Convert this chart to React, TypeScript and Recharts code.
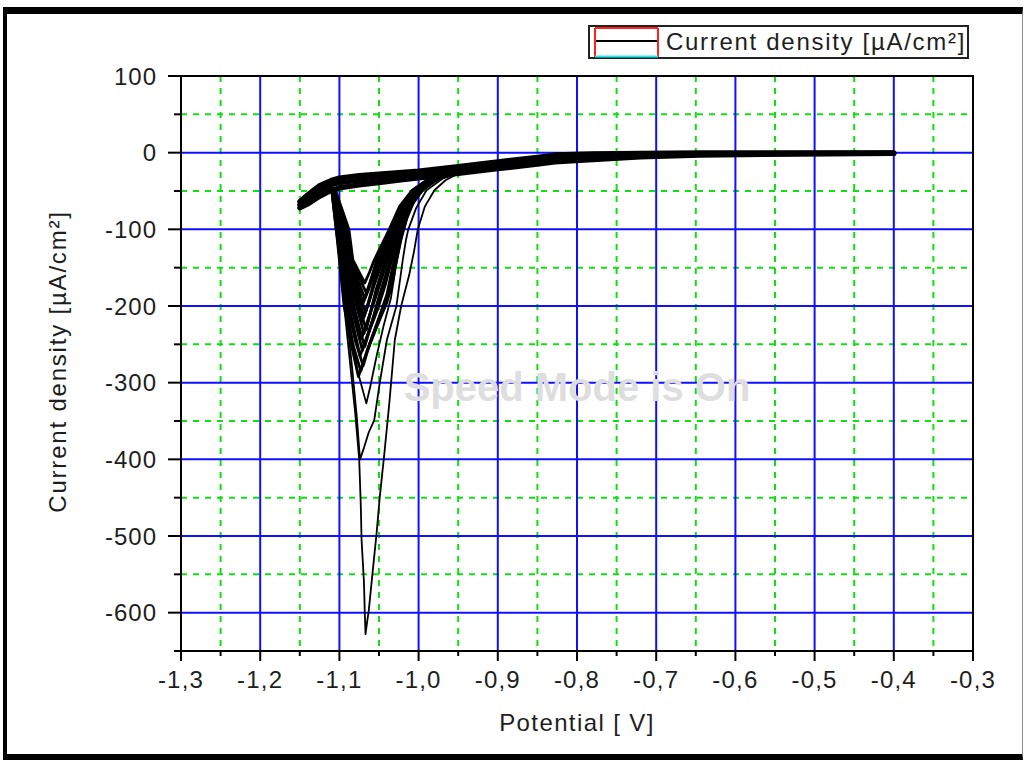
import { LineChart, Line, XAxis, YAxis, CartesianGrid, ReferenceArea, Label } from 'recharts';

type Pt = [number, number];

// axis ticks (labels use a decimal comma)
const X_MAJOR = [-1.3, -1.2, -1.1, -1.0, -0.9, -0.8, -0.7, -0.6, -0.5, -0.4, -0.3];
const X_MINOR = [-1.25, -1.15, -1.05, -0.95, -0.85, -0.75, -0.65, -0.55, -0.45, -0.35];
const Y_MAJOR = [100, 0, -100, -200, -300, -400, -500, -600];
const Y_MINOR = [50, -50, -150, -250, -350, -450, -550, -650];

// forward scan band (top edge, middle, bottom edge of the overlapping cycles)
const SCAN_TOP: Pt[] = [
  [-1.150, -64], [-1.140, -55], [-1.125, -43], [-1.110, -36], [-1.100, -33], [-1.075, -30],
  [-1.050, -28], [-1.025, -26], [-1.000, -24], [-0.975, -21], [-0.950, -18], [-0.900, -12],
  [-0.850, -6], [-0.828, -3], [-0.780, -1.5], [-0.720, -0.8], [-0.645, -0.4], [-0.520, -0.2], [-0.400, -0.2],
];
const SCAN_MID: Pt[] = [
  [-1.150, -68], [-1.140, -61], [-1.125, -50], [-1.110, -42], [-1.100, -39], [-1.075, -36],
  [-1.050, -33], [-1.025, -31], [-1.000, -28], [-0.975, -25], [-0.950, -22], [-0.900, -16],
  [-0.850, -10], [-0.828, -7], [-0.780, -5], [-0.720, -3], [-0.645, -1.8], [-0.520, -1], [-0.400, -0.6],
];
const SCAN_BOT: Pt[] = [
  [-1.150, -72], [-1.140, -67], [-1.125, -57], [-1.110, -49], [-1.100, -46], [-1.075, -42],
  [-1.050, -39], [-1.025, -36], [-1.000, -33], [-0.975, -30], [-0.950, -27], [-0.900, -21],
  [-0.850, -15], [-0.828, -12], [-0.780, -9], [-0.720, -5.5], [-0.645, -3.2], [-0.520, -1.8], [-0.400, -1.0],
];

// reduction loops, deepest first
const LOOP_1: Pt[] = [
  [-1.110, -46], [-1.104, -95], [-1.099, -145], [-1.094, -200], [-1.087, -270], [-1.080, -340],
  [-1.075, -400], [-1.073, -460], [-1.072, -505], [-1.069, -560], [-1.068, -598], [-1.067, -628],
  [-1.065, -612], [-1.063, -598], [-1.059, -557], [-1.053, -496], [-1.049, -449], [-1.043, -390],
  [-1.037, -327], [-1.030, -244], [-1.022, -200], [-1.012, -160], [-1.006, -130], [-1.001, -100],
  [-0.992, -70], [-0.980, -49], [-0.966, -36], [-0.952, -28], [-0.925, -21], [-0.890, -16], [-0.860, -12],
];
const LOOP_2: Pt[] = [
  [-1.110, -46], [-1.103, -100], [-1.097, -155], [-1.091, -210], [-1.084, -280], [-1.078, -345],
  [-1.074, -400], [-1.069, -385], [-1.063, -365], [-1.056, -349], [-1.049, -300], [-1.040, -244],
  [-1.028, -200], [-1.020, -140], [-1.016, -114], [-1.013, -100], [-1.003, -72], [-0.990, -49],
  [-0.970, -34], [-0.945, -25], [-0.910, -19], [-0.870, -14],
];
const LOOP_3: Pt[] = [
  [-1.109, -46], [-1.102, -100], [-1.095, -160], [-1.087, -225], [-1.077, -285], [-1.066, -327],
  [-1.061, -305], [-1.053, -265], [-1.044, -225], [-1.035, -190], [-1.029, -150], [-1.022, -115],
  [-1.014, -85], [-1.003, -58], [-0.985, -40], [-0.960, -29], [-0.930, -21], [-0.890, -15],
];
const LOOP_4: Pt[] = [
  [-1.110, -46], [-1.104, -100], [-1.100, -140], [-1.094, -200], [-1.085, -250], [-1.076, -292],
  [-1.066, -262], [-1.052, -225], [-1.040, -195], [-1.033, -170], [-1.028, -140], [-1.020, -100],
  [-1.010, -70], [-0.995, -49], [-0.975, -34], [-0.948, -25], [-0.910, -18],
];
const LOOP_5: Pt[] = [
  [-1.110, -46], [-1.104, -100], [-1.099, -140], [-1.092, -200], [-1.083, -250], [-1.073, -285],
  [-1.064, -255], [-1.051, -220], [-1.040, -190], [-1.030, -140], [-1.021, -100], [-1.011, -70],
  [-0.996, -49], [-0.976, -34], [-0.949, -25], [-0.910, -18],
];
const LOOP_6: Pt[] = [
  [-1.110, -46], [-1.103, -100], [-1.098, -140], [-1.090, -200], [-1.080, -245], [-1.070, -278],
  [-1.062, -250], [-1.050, -215], [-1.040, -185], [-1.031, -140], [-1.022, -100], [-1.011, -70],
  [-0.996, -49], [-0.976, -34], [-0.949, -25], [-0.910, -18],
];
const LOOP_7: Pt[] = [
  [-1.109, -46], [-1.102, -100], [-1.097, -140], [-1.089, -195], [-1.074, -265],
  [-1.063, -235], [-1.052, -205], [-1.042, -172], [-1.034, -140], [-1.023, -100], [-1.013, -70],
  [-0.998, -49], [-0.977, -34], [-0.950, -25], [-0.911, -18],
];
const LOOP_8: Pt[] = [
  [-1.109, -46], [-1.101, -100], [-1.096, -140], [-1.087, -192], [-1.071, -258],
  [-1.062, -230], [-1.052, -200], [-1.043, -170], [-1.035, -140], [-1.024, -100], [-1.014, -70],
  [-0.999, -49], [-0.978, -34], [-0.950, -25], [-0.911, -18],
];
const LOOP_9: Pt[] = [
  [-1.109, -46], [-1.100, -100], [-1.095, -140], [-1.086, -190], [-1.068, -253],
  [-1.060, -225], [-1.052, -195], [-1.044, -168], [-1.036, -140], [-1.025, -100], [-1.014, -70],
  [-0.999, -49], [-0.979, -34], [-0.950, -25], [-0.911, -18],
];
const LOOP_10: Pt[] = [
  [-1.109, -46], [-1.099, -100], [-1.094, -140], [-1.085, -185], [-1.072, -242],
  [-1.063, -215], [-1.054, -188], [-1.046, -162], [-1.039, -140], [-1.027, -100], [-1.016, -70],
  [-1.000, -49], [-0.980, -34], [-0.951, -25], [-0.912, -18],
];
const LOOP_11: Pt[] = [
  [-1.108, -46], [-1.098, -100], [-1.093, -140], [-1.083, -182], [-1.069, -236],
  [-1.061, -210], [-1.054, -184], [-1.047, -161], [-1.040, -140], [-1.028, -100], [-1.016, -70],
  [-1.001, -49], [-0.980, -34], [-0.951, -25], [-0.912, -18],
];
const LOOP_12: Pt[] = [
  [-1.108, -46], [-1.097, -100], [-1.092, -140], [-1.082, -180], [-1.066, -231],
  [-1.060, -205], [-1.054, -180], [-1.048, -160], [-1.042, -140], [-1.029, -100], [-1.017, -70],
  [-1.002, -49], [-0.981, -34], [-0.952, -25], [-0.912, -18],
];
const LOOP_13: Pt[] = [
  [-1.108, -46], [-1.096, -100], [-1.090, -140], [-1.080, -180], [-1.071, -220],
  [-1.063, -196], [-1.056, -172], [-1.050, -155], [-1.045, -140], [-1.030, -100], [-1.018, -70],
  [-1.003, -49], [-0.982, -34], [-0.953, -25], [-0.912, -18],
];
const LOOP_14: Pt[] = [
  [-1.108, -46], [-1.095, -100], [-1.089, -140], [-1.079, -178], [-1.069, -214],
  [-1.062, -192], [-1.055, -168], [-1.047, -140], [-1.031, -100], [-1.019, -70],
  [-1.003, -49], [-0.982, -34], [-0.953, -25], [-0.912, -18],
];
const LOOP_15: Pt[] = [
  [-1.108, -46], [-1.094, -100], [-1.088, -140], [-1.078, -175], [-1.067, -208],
  [-1.061, -186], [-1.055, -163], [-1.048, -140], [-1.032, -100], [-1.020, -70],
  [-1.004, -49], [-0.983, -34], [-0.954, -25], [-0.913, -18],
];
const LOOP_16: Pt[] = [
  [-1.107, -46], [-1.092, -100], [-1.087, -140], [-1.078, -170], [-1.070, -196],
  [-1.063, -178], [-1.056, -158], [-1.050, -140], [-1.034, -100], [-1.021, -70],
  [-1.005, -49], [-0.985, -34], [-0.954, -25], [-0.913, -18],
];
const LOOP_17: Pt[] = [
  [-1.107, -46], [-1.091, -100], [-1.086, -140], [-1.076, -168], [-1.068, -190],
  [-1.062, -173], [-1.057, -156], [-1.052, -140], [-1.034, -100], [-1.022, -70],
  [-1.006, -49], [-0.985, -34], [-0.955, -25], [-0.913, -18],
];
const LOOP_18: Pt[] = [
  [-1.107, -46], [-1.090, -100], [-1.085, -140], [-1.074, -165], [-1.066, -183],
  [-1.061, -168], [-1.057, -155], [-1.053, -140], [-1.035, -100], [-1.023, -70],
  [-1.007, -49], [-0.986, -34], [-0.955, -25], [-0.914, -18],
];
const LOOP_19: Pt[] = [
  [-1.106, -46], [-1.088, -100], [-1.083, -140], [-1.068, -170],
  [-1.062, -156], [-1.056, -140], [-1.037, -100], [-1.024, -70],
  [-1.008, -49], [-0.987, -34], [-0.956, -25], [-0.914, -18],
];

const SCANS = [SCAN_TOP, SCAN_MID, SCAN_BOT];
const LOOPS = [
  LOOP_1, LOOP_2, LOOP_3, LOOP_4, LOOP_5, LOOP_6, LOOP_7, LOOP_8, LOOP_9, LOOP_10,
  LOOP_11, LOOP_12, LOOP_13, LOOP_14, LOOP_15, LOOP_16, LOOP_17, LOOP_18, LOOP_19,
];

const rows = (pts: Pt[]) => pts.map(([x, y]) => ({ x, y }));

const FONT = '"Liberation Sans", Arial, sans-serif';
const TEXT = '#1e1e1e';
const BLUE = '#1010ff';
const GREEN = '#10e010';

const X_TICK = 10;
const X_GAP = 14;
const Y_TICK = 13;
const Y_GAP = 11;

const has = (list: number[], v: number) => list.some((t) => Math.abs(t - v) < 1e-6);
const comma = (v: number) => v.toFixed(1).replace('.', ',');

const XTick = (props: any) => {
  const { x, y, payload } = props;
  const major = has(X_MAJOR, payload.value);
  const axisY = y - X_TICK - X_GAP;
  return (
    <g>
      <line x1={x} x2={x} y1={axisY} y2={axisY + (major ? X_TICK : 5)} stroke="#000" strokeWidth={2} />
      {major && (
        <text x={x} y={axisY + 37} textAnchor="middle" fontSize={24} letterSpacing={1.2} fill={TEXT} fontFamily={FONT}>
          {comma(payload.value)}
        </text>
      )}
    </g>
  );
};

const YTick = (props: any) => {
  const { x, y, payload } = props;
  const major = has(Y_MAJOR, payload.value);
  const axisX = x + Y_TICK + Y_GAP;
  return (
    <g>
      <line x1={axisX} x2={axisX - (major ? Y_TICK : 7)} y1={y} y2={y} stroke="#000" strokeWidth={2} />
      {major && (
        <text x={axisX - 24} y={y + 8.5} textAnchor="end" fontSize={24} letterSpacing={1} fill={TEXT} fontFamily={FONT}>
          {payload.value}
        </text>
      )}
    </g>
  );
};

export default function App() {
  return (
    <div style={{ position: 'fixed', top: 0, left: 0, width: 1024, height: 760, background: '#fff', fontFamily: FONT }}>
      {/* window frame */}
      <div
        style={{
          position: 'absolute', left: 3, top: 7, width: 1020, height: 753, boxSizing: 'border-box',
          borderTop: '7px solid #000', borderLeft: '4px solid #000', borderBottom: '6px solid #000',
          borderRight: '1px solid #8a8a8a',
        }}
      />
      <div style={{ position: 'absolute', left: 0, top: 0 }}>
        <LineChart width={1024} height={760} margin={{ top: 76, right: 51, bottom: 0, left: 0 }}>
          <CartesianGrid
            stroke={GREEN}
            strokeWidth={2}
            strokeDasharray="6 6"
            verticalValues={X_MINOR}
            horizontalValues={Y_MINOR.slice(0, -1)}
          />
          <CartesianGrid
            stroke={BLUE}
            strokeWidth={2}
            verticalValues={X_MAJOR.slice(1, -1)}
            horizontalValues={Y_MAJOR.slice(1)}
          />
          <XAxis
            dataKey="x"
            type="number"
            domain={[-1.3, -0.3]}
            allowDataOverflow
            ticks={[...X_MAJOR, ...X_MINOR].sort((a, b) => a - b)}
            interval={0}
            height={109}
            tickSize={X_TICK}
            tickMargin={X_GAP}
            tickLine={false}
            tick={<XTick />}
            axisLine={{ stroke: '#000', strokeWidth: 2 }}
          >
            <Label
              content={(p: any) => (
                <text
                  x={p.viewBox.x + p.viewBox.width / 2}
                  y={p.viewBox.y + 80}
                  textAnchor="middle"
                  fontSize={24}
                  letterSpacing={1.4}
                  fill={TEXT}
                  fontFamily={FONT}
                >
                  Potential [ V]
                </text>
              )}
            />
          </XAxis>
          <YAxis
            dataKey="y"
            type="number"
            domain={[-650, 100]}
            allowDataOverflow
            ticks={[...Y_MAJOR, ...Y_MINOR].sort((a, b) => b - a)}
            interval={0}
            width={181}
            tickSize={Y_TICK}
            tickMargin={Y_GAP}
            tickLine={false}
            tick={<YTick />}
            axisLine={{ stroke: '#000', strokeWidth: 2 }}
          >
            <Label
              content={(p: any) => {
                const cx = p.viewBox.x + 66;
                const cy = p.viewBox.y + p.viewBox.height / 2 - 2;
                return (
                  <text
                    x={cx}
                    y={cy}
                    transform={`rotate(-90 ${cx} ${cy})`}
                    textAnchor="middle"
                    fontSize={24}
                    letterSpacing={1.8}
                    fill={TEXT}
                    fontFamily={FONT}
                  >
                    Current density [µA/cm²]
                  </text>
                );
              }}
            />
          </YAxis>
          <ReferenceArea
            x1={-1.3}
            x2={-0.3}
            y1={-650}
            y2={100}
            fill="none"
            stroke="#000"
            strokeWidth={2}
            ifOverflow="visible"
          />
          {SCANS.map((pts, i) => (
            <Line
              key={`scan-${i}`}
              data={rows(pts)}
              dataKey="y"
              type="linear"
              stroke="#000"
              strokeWidth={5.2}
              strokeLinecap="round"
              strokeLinejoin="round"
              dot={false}
              activeDot={false}
              isAnimationActive={false}
            />
          ))}
          {LOOPS.map((pts, i) => (
            <Line
              key={`loop-${i}`}
              data={rows(pts)}
              dataKey="y"
              type="linear"
              stroke="#000"
              strokeWidth={i < 3 ? 1.8 : 2.8}
              strokeLinejoin="round"
              dot={false}
              activeDot={false}
              isAnimationActive={false}
            />
          ))}
        </LineChart>
      </div>
      {/* legend box and watermark */}
      <svg width={1024} height={760} style={{ position: 'absolute', left: 0, top: 0, pointerEvents: 'none' }}>
        <text x={577} y={401} textAnchor="middle" fontSize={40} fontWeight="bold" fill="#dedede" fontFamily={FONT}>
          Speed Mode is On
        </text>
        <rect x={589} y={26} width={379} height={32} fill="#fff" stroke="#222" strokeWidth={2} />
        <line x1={595} x2={595} y1={28} y2={57} stroke="#ff2020" strokeWidth={2} />
        <line x1={658} x2={658} y1={28} y2={57} stroke="#ff2020" strokeWidth={2} />
        <line x1={595} x2={658} y1={28} y2={28} stroke="#ff2020" strokeWidth={2} />
        <line x1={595} x2={658} y1={56.5} y2={56.5} stroke="#20e8f0" strokeWidth={2} />
        <line x1={596} x2={657} y1={41} y2={41} stroke="#000" strokeWidth={2} />
        <text x={666} y={50} fontSize={24} letterSpacing={1.7} fill={TEXT} fontFamily={FONT}>
          Current density [µA/cm²]
        </text>
      </svg>
    </div>
  );
}
